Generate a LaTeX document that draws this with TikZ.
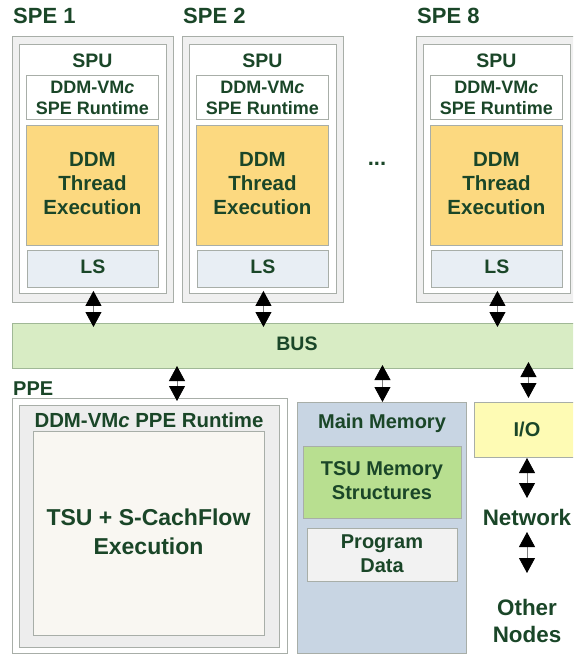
\documentclass[tikz,border=0pt]{standalone}
\usepackage{fontspec}
\setmainfont{Liberation Sans}
\usetikzlibrary{arrows.meta,calc}
\definecolor{txt}{RGB}{26,70,40}
\definecolor{bord}{RGB}{168,174,168}
\definecolor{outerfill}{RGB}{240,240,240}
\definecolor{ddmyellow}{RGB}{252,217,128}
\definecolor{lsfill}{RGB}{232,238,244}
\definecolor{busfill}{RGB}{216,236,196}
\definecolor{busbord}{RGB}{160,184,150}
\definecolor{memfill}{RGB}{200,213,227}
\definecolor{tsufill}{RGB}{184,223,144}
\definecolor{progfill}{RGB}{242,242,242}
\definecolor{iofill}{RGB}{254,251,180}
\definecolor{ppein}{RGB}{237,237,237}
\definecolor{ppecore}{RGB}{249,247,242}
\tikzset{
  blk/.style={draw=bord, line width=0.9pt, inner sep=0pt, anchor=north west},
  lbl/.style={text=txt, inner sep=0pt, align=center},
  fs/.style n args={2}{font=\bfseries\fontsize{#1}{#2}\selectfont},
  biarrow/.style={draw=gray, line width=0.8pt,
    {Triangle[width=16pt,length=15pt,color=black]}-{Triangle[width=16pt,length=15pt,color=black]}},
}
\newcommand\bx[6]{\node[blk,fill=#2,minimum width={(#5)-(#3)},minimum height={(#6)-(#4)}] (#1) at (#3,#4) {};}
\newcommand\speblock[3]{%
  \node[lbl, fs={22}{26}, anchor=west] (t#1) at (#2+1,16) {#3};
  \bx{o#1}{outerfill}{#2}{36}{#2+161}{302}
  \bx{i#1}{white}{#2+7}{44}{#2+154}{293}
  \node[lbl, fs={19.5}{23}] (u#1) at (#2+80.5,61) {SPU};
  \bx{r#1}{white}{#2+14}{75}{#2+146}{119}
  \node[lbl, fs={18}{21}] (rt#1) at (r#1.center) {DDM-VM\textit{c}\\SPE Runtime};
  \bx{y#1}{ddmyellow}{#2+14}{125}{#2+146}{245}
  \node[lbl, fs={20.5}{24}] (yt#1) at ($(y#1.center)+(0,-2)$) {DDM\\Thread\\Execution};
  \bx{l#1}{lsfill}{#2+15}{250}{#2+146}{287}
  \node[lbl, fs={19.5}{23}] (lt#1) at ($(l#1.center)+(0,-2)$) {LS};
}
\begin{document}
\begin{tikzpicture}[x=1pt,y=-1pt]
\useasboundingbox (0,0) rectangle (573,655);
\clip (0,0) rectangle (573,655);
% SPEs
\speblock{1}{12}{SPE 1}
\speblock{2}{182}{SPE 2}
\speblock{8}{416}{SPE 8}
\node[lbl, fs={22}{26}] (dots) at (377,164) {...};
% Bus
\node[blk,fill=busfill,draw=busbord,minimum width=570,minimum height=45] (bus) at (12,323) {};
\node[lbl, fs={19.5}{23}] (bust) at (297,344) {BUS};
% PPE
\node[lbl, fs={20}{24}, anchor=west] (ppet) at (13,389) {PPE};
\bx{ppe}{white}{12}{398}{287}{653}
\bx{ppei}{ppein}{19}{405}{279}{647}
\node[lbl, fs={20.4}{24}] (ppert) at (149,420) {DDM-VM\textit{c} PPE Runtime};
\bx{ppec}{ppecore}{33}{431}{264}{635}
\node[lbl, fs={23}{28.5}] (ppect) at (148.5,532) {TSU + S-CachFlow\\Execution};
% Main memory
\bx{mem}{memfill}{297}{402}{466}{653}
\node[lbl, fs={20}{24}] (memt) at (382,423) {Main Memory};
\bx{tsu}{tsufill}{303}{446}{461}{518}
\node[lbl, fs={20}{24}] (tsut) at (382,481) {TSU Memory\\Structures};
\bx{prog}{progfill}{307}{528}{457}{581}
\node[lbl, fs={20}{24}] (progt) at (382,554) {Program\\Data};
% I/O and network
\bx{io}{iofill}{474}{402}{580}{457}
\node[lbl, fs={20}{24}] (iot) at (527,429) {I/O};
\node[lbl, fs={22.4}{27}] (net) at (527,517) {Network};
\node[lbl, fs={22.4}{27}] (other) at (527,621) {Other\\Nodes};
% arrows
\draw[biarrow] ($(o1.south)+(0.5,-12)$) -- ($(o1.south |- bus.north)+(0.5,4)$);
\draw[biarrow] ($(o2.south)+(0.5,-12)$) -- ($(o2.south |- bus.north)+(0.5,4)$);
\draw[biarrow] ($(o8.south)+(0.5,-12)$) -- ($(o8.south |- bus.north)+(0.5,4)$);
\draw[biarrow] ($(ppe.north west)+(165,-32)$) -- ($(ppe.north west)+(165,3)$);
\draw[biarrow] ($(mem.north)+(0.5,-37)$) -- ($(mem.north)+(0.5,0)$);
\draw[biarrow] ($(io.north)+(1,-40)$) -- ($(io.north)+(1,-4)$);
\coordinate (n1) at (527,458);
\coordinate (n2) at (527,498);
\coordinate (n3) at (527,532);
\coordinate (n4) at (527,573);
\draw[biarrow] (n1) -- (n2);
\draw[biarrow] (n3) -- (n4);
\end{tikzpicture}
\end{document}
